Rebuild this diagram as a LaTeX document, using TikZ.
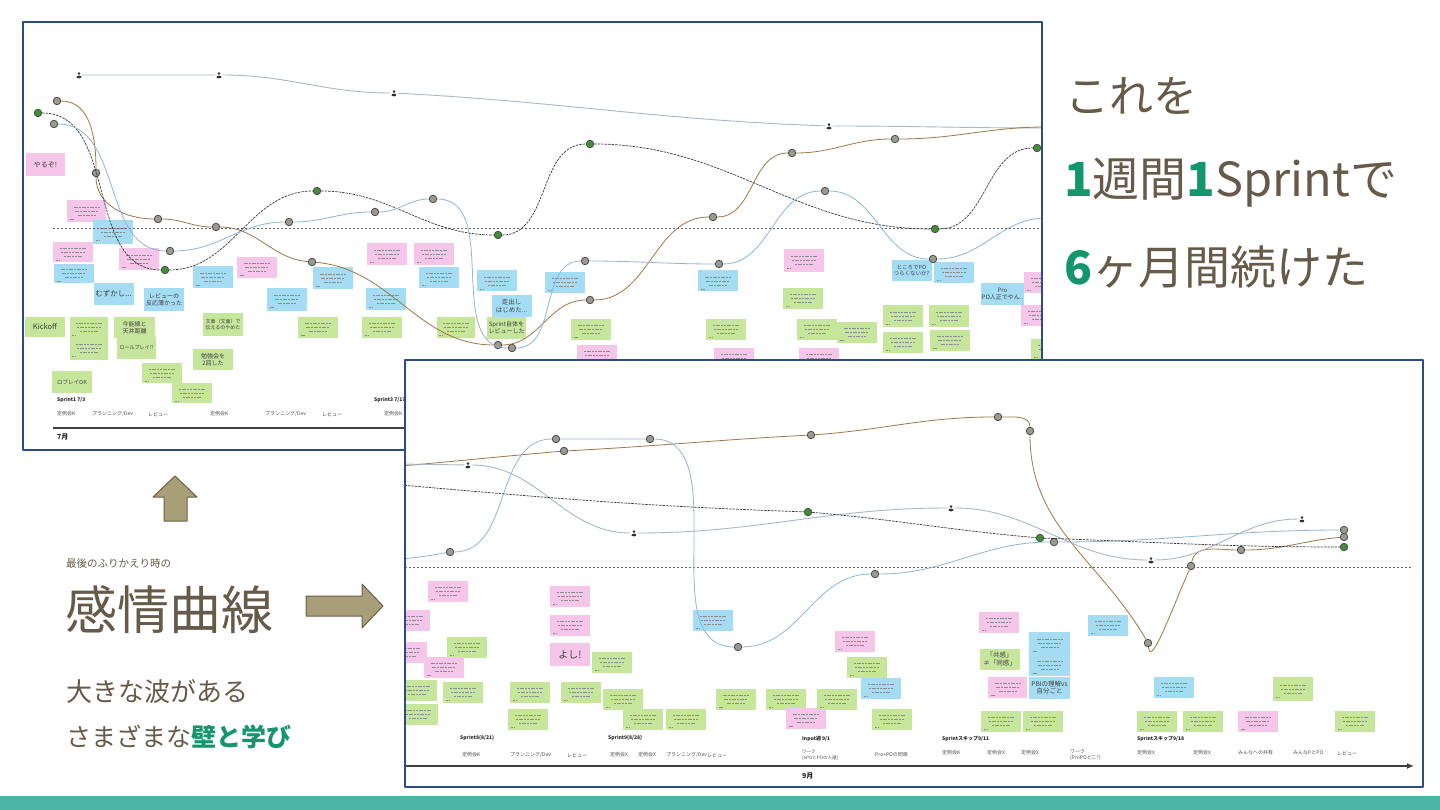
\documentclass[tikz,border=0pt]{standalone}
\usepackage{fontspec}
\setmainfont{Noto Sans CJK JP}
\usetikzlibrary{arrows.meta}
\definecolor{ink}{HTML}{665A48}
\definecolor{leaf}{HTML}{13966A}
\definecolor{khaki}{HTML}{A89E78}
\definecolor{khakiline}{HTML}{6B604A}
\definecolor{tealbar}{HTML}{4DB5A5}
\definecolor{frame}{HTML}{2E4C84}
\definecolor{gnote}{HTML}{C6E69C}
\definecolor{pnote}{HTML}{F6C6EA}
\definecolor{bnote}{HTML}{A4DCF4}
\definecolor{tancurve}{HTML}{A07648}
\definecolor{bluecurve}{HTML}{8DB6D6}
\definecolor{greycurve}{HTML}{A8B8C4}
\definecolor{darkcurve}{HTML}{3A3A3A}
\definecolor{dotgrey}{HTML}{9A9A90}
\definecolor{dotgreen}{HTML}{3F8F35}

\begin{document}
\begin{tikzpicture}[x=1pt, y=-1pt, line join=round,
    note/.style={minimum width=40, minimum height=21, inner sep=1pt, align=center,
                 text=black!75, font=\fontsize{5.5}{6.5}\selectfont},
    gn/.style={note, fill=gnote},
    pk/.style={note, fill=pnote},
    bl/.style={note, fill=bnote},
    scr/.style={path picture={\draw[black!45, line width=0.7pt, dash pattern=on 2pt off 0.7pt]
        ([xshift=-13pt,yshift=4pt]path picture bounding box.center) -- ([xshift=13pt,yshift=4pt]path picture bounding box.center)
        ([xshift=-12pt,yshift=0pt]path picture bounding box.center) -- ([xshift=12pt,yshift=0pt]path picture bounding box.center)
        ([xshift=-9pt,yshift=-4pt]path picture bounding box.center) -- ([xshift=9pt,yshift=-4pt]path picture bounding box.center)
        ([xshift=-17pt,yshift=-8pt]path picture bounding box.center) -- ([xshift=-13pt,yshift=-8pt]path picture bounding box.center);}},
    dotg/.style={circle, inner sep=0pt, minimum size=7.5pt, fill=dotgrey, draw=black!70, line width=0.8pt},
    dotgr/.style={dotg, fill=dotgreen},
    pers/.style={circle, inner sep=0pt, minimum size=7pt, fill=white,
        path picture={\fill[black!80] ([yshift=1.4pt]path picture bounding box.center) circle (1.4pt);
                      \fill[black!80] ([yshift=-2.4pt]path picture bounding box.center) ellipse (2.6pt and 1.8pt);}},
    crvA/.style={draw=greycurve, line width=0.9pt},
    crvB/.style={draw=tancurve, line width=0.8pt},
    crvC/.style={draw=darkcurve, line width=0.7pt, dash pattern=on 2.5pt off 1pt},
    crvD/.style={draw=bluecurve, line width=0.8pt},
    divd/.style={draw=black!60, line width=1pt, dash pattern=on 2pt off 2pt},
    tline/.style={draw=black!75, line width=1.4pt},
    lbl/.style={anchor=west, inner sep=0pt, text=black!70, font=\fontsize{5}{6}\selectfont},
    slbl/.style={lbl, text=black!85, font=\fontsize{5}{6}\selectfont\bfseries},
    mlbl/.style={lbl, text=black!85, font=\fontsize{7}{8}\selectfont\bfseries},
    frm/.style={draw=frame, line width=1.6pt},
    bigarr/.style={fill=khaki, draw=khakiline, line width=1pt},
    head/.style={anchor=base west, inner sep=0pt, text=ink}]
  \useasboundingbox (0,0) rectangle (1440,810);
  \fill[white] (0,0) rectangle (1440,810);

  % first board: July
  \begin{scope}
    \clip (23,22) rectangle (1042,450);
    \node[slbl] (s1) at (57,400) {Sprint1 7/3};
    \node[slbl] (s2) at (178,400) {Sprint2 7/10};
    \node[slbl] (s3) at (374,400) {Sprint3 7/17};
    \node[lbl] (r1) at (57,414) {定例会K};
    \node[lbl] (r2) at (92,414) {プランニング/Dev};
    \node[lbl] (r3) at (148,414) {レビュー};
    \node[lbl] (r4) at (210,414) {定例会K};
    \node[lbl] (r5) at (265,414) {プランニング/Dev};
    \node[lbl] (r6) at (322,414) {レビュー};
    \node[lbl] (r7) at (384,414) {定例会K};
    \coordinate (jl) at (53,428);
    \coordinate (jr) at (1042,428);
    \draw[tline] (jl) -- (jr);
    \node[mlbl] (m7) at (57,437) {7月};

    \node[pk, minimum width=39, minimum height=23, font=\fontsize{7}{8}\selectfont] (p1) at (45.5,164.5) {やるぞ!};
    \node[pk, scr, minimum width=39, minimum height=22] (p2) at (86.5,211) {};
    \node[bl, scr, minimum height=24] (p3) at (113,232) {};
    \node[pk, scr, minimum height=20] (p4) at (73,252) {};
    \node[bl, scr, minimum height=19] (p5) at (73.5,273.5) {};
    \node[pk, scr, minimum height=22] (p6) at (138.5,259) {};
    \node[bl, scr, minimum height=22] (p7) at (212.5,277) {};
    \node[pk, scr] (p8) at (256.5,267.5) {};
    \node[bl, minimum height=22, font=\fontsize{7.5}{8.5}\selectfont] (p9) at (113.5,294) {むずかし...};
    \node[bl, minimum height=23, font=\fontsize{6}{7}\selectfont] (p10) at (164,299.5) {レビューの\\反応薄かった};
    \node[bl, scr, minimum height=23] (p11) at (286.5,299.5) {};
    \node[bl, scr, minimum height=22] (p12) at (332.5,278) {};
    \node[pk, scr, minimum height=22] (p13) at (387,254) {};
    \node[pk, scr, minimum height=22] (p14) at (434,254) {};
    \node[bl, scr] (p15) at (439,277.5) {};
    \node[bl, scr] (p16) at (386,299) {};
    \node[bl, scr] (p17) at (497,281) {};
    \node[bl, minimum height=22, font=\fontsize{6.5}{7.5}\selectfont] (p18) at (511.5,306) {走出し\\はじめた...};
    \node[gn, minimum height=20, font=\fontsize{7.5}{8.5}\selectfont] (p19) at (45,327) {Kickoff};
    \node[gn, scr, minimum width=38, minimum height=20] (p20) at (89,327) {};
    \node[gn, minimum width=41, font=\fontsize{6}{7}\selectfont] (p21) at (134.5,327.5) {今能線と\\天井距離};
    \node[gn, scr, minimum width=38, minimum height=23] (p22) at (89,348.5) {};
    \node[gn, minimum width=39, minimum height=22, font=\fontsize{5}{6}\selectfont] (p23) at (136.5,348) {ロールプレイ!?};
    \node[gn, minimum height=23, font=\fontsize{5}{6}\selectfont] (p24) at (223,324.5) {文章（文面）で\\伝えるのやめた};
    \node[gn, font=\fontsize{6}{7}\selectfont] (p25) at (213,359.5) {勉強会を\\2回した};
    \node[gn, minimum height=22, font=\fontsize{5.5}{6.5}\selectfont] (p26) at (72,382) {ロブレイOK};
    \node[gn, scr, minimum height=20] (p27) at (162,373) {};
    \node[gn, scr, minimum height=20] (p28) at (192,393) {};
    \node[gn, scr] (p29) at (317.5,327.5) {};
    \node[gn, scr] (p30) at (382,327.5) {};
    \node[gn, scr, minimum width=38] (p31) at (456,327.5) {};
    \node[gn, minimum width=39, minimum height=22, font=\fontsize{6}{7}\selectfont] (p32) at (506.5,328) {Sprint自体を\\レビューした};
    \node[bl, scr] (p33) at (565,282.5) {};
    \node[gn, scr] (p34) at (590.5,329) {};
    \node[pk, scr] (p35) at (597,355) {};
    \node[bl, scr] (p36) at (717.5,281) {};
    \node[gn, scr] (p37) at (726,329) {};
    \node[pk, scr] (p38) at (734,358) {};
    \node[pk, scr, minimum height=23] (p39) at (804,260.5) {};
    \node[gn, scr] (p40) at (803,298.5) {};
    \node[gn, scr] (p41) at (817,329) {};
    \node[gn, scr] (p42) at (856.5,332.5) {};
    \node[pk, scr] (p43) at (819,358) {};
    \node[bl, font=\fontsize{5.5}{6.5}\selectfont] (p44) at (911.5,270.5) {ところでPO\\つらくないか?};
    \node[bl, scr] (p45) at (954,272.5) {};
    \node[bl, minimum height=22, font=\fontsize{6}{7}\selectfont] (p46) at (1002.5,294) {Pro\\PO人正でやん..};
    \node[gn, scr] (p47) at (903,316) {};
    \node[gn, scr] (p48) at (949,316) {};
    \node[gn, scr] (p49) at (903,342.5) {};
    \node[gn, scr] (p50) at (949.5,340) {};
    \node[pk, scr] (p51) at (1044,282.5) {};
    \node[pk, scr] (p52) at (1041,315.5) {};
    \node[gn, scr] (p53) at (1051,349) {};

    \coordinate (dl) at (53,229);
    \coordinate (dr) at (1042,229);
    \draw[divd] (dl) -- (dr);

    \node[pers] (a1) at (79,75) {};
    \node[pers] (a2) at (219,75) {};
    \node[pers] (a3) at (394,93) {};
    \node[pers] (a4) at (829,126) {};
    \coordinate (aR) at (1046,128);
    \node[dotg] (b1) at (57,101) {};
    \node[dotg] (b2) at (96,173) {};
    \node[dotg] (b3) at (158,219) {};
    \node[dotg] (b4) at (216,227) {};
    \node[dotg] (b5) at (312,262) {};
    \node[dotg] (b6) at (498,345) {};
    \node[dotg] (b7) at (590,300) {};
    \node[dotg] (b8) at (713,217) {};
    \node[dotg] (b9) at (792,153) {};
    \node[dotg] (b10) at (895,139) {};
    \coordinate (bR) at (1046,127);
    \node[dotgr] (c1) at (38,113) {};
    \node[dotgr] (c2) at (165,270) {};
    \node[dotgr] (c3) at (317,191) {};
    \node[dotgr] (c4) at (498,235) {};
    \node[dotgr] (c5) at (590,144) {};
    \node[dotgr] (c6) at (935,229) {};
    \node[dotgr] (c7) at (1037,148) {};
    \node[dotg] (d1) at (54,124) {};
    \node[dotg] (d2) at (170,251) {};
    \node[dotg] (d3) at (289,222) {};
    \node[dotg] (d4) at (375,212) {};
    \node[dotg] (d5) at (433,199) {};
    \node[dotg] (d6) at (512,348) {};
    \node[dotg] (d7) at (585,261) {};
    \node[dotg] (d8) at (719,264) {};
    \node[dotg] (d9) at (825,191) {};
    \node[dotg] (d10) at (933,259) {};
    \coordinate (dR) at (1046,218);

    \draw[crvA] (a1) -- (a2) to[out=0,in=180] (a3) to[out=-3,in=178] (a4) to[out=0,in=180] (aR);
    \draw[crvB] (b1) to[out=0,in=90] (b2) to[out=270,in=180] (b3) to[out=0,in=180] (b4)
      to[out=0,in=175] (b5) to[out=-5,in=180] (b6) to[out=0,in=180] (b7) to[out=0,in=180] (b8)
      to[out=0,in=180] (b9) to[out=0,in=180] (b10) to[out=0,in=180] (bR);
    \draw[crvC] (c1) to[out=0,in=180] (c2) to[out=0,in=180] (c3) to[out=0,in=180] (c4)
      to[out=0,in=180] (c5) to[out=0,in=180] (c6) to[out=0,in=180] (c7);
    \draw[crvD] (d1) to[out=0,in=180] (d2) to[out=0,in=180] (d3) to[out=0,in=180] (d4)
      to[out=0,in=180] (d5) to[out=0,in=180] (d6) to[out=0,in=180] (d7) to[out=0,in=180] (d8)
      to[out=0,in=180] (d9) to[out=0,in=180] (d10) to[out=0,in=180] (dR);
  \end{scope}
  \draw[frm] (23,22) rectangle (1042,450);

  % second board: September
  \fill[white] (405,360) rectangle (1423,787);
  \begin{scope}
    \clip (405,360) rectangle (1423,787);
    \node[slbl] (s4) at (460,738) {Sprint8(8/21)};
    \node[slbl] (s5) at (608,738) {Sprint9(8/28)};
    \node[slbl] (s6) at (802,739) {Input週 9/1};
    \node[slbl] (s7) at (942,739) {Sprintスキップ9/11};
    \node[slbl] (s8) at (1137,739) {Sprintスキップ9/18};
    \node[lbl] (r8) at (462,755) {定例会K};
    \node[lbl] (r9) at (510,755) {プランニング/Dev};
    \node[lbl] (r10) at (567,755) {レビュー};
    \node[lbl] (r11) at (610,755) {定例会X};
    \node[lbl] (r12) at (638,755) {定例会X};
    \node[lbl] (r13) at (666,755) {プランニング/Dev};
    \node[lbl] (r14) at (707,755) {レビュー};
    \node[lbl, align=left, font=\fontsize{4.5}{6}\selectfont] (r15) at (802,755) {ワーク\\(ePOとPOの人選)};
    \node[lbl] (r16) at (875,755) {Pro+POの同席};
    \node[lbl] (r17) at (942,753) {定例会K};
    \node[lbl] (r18) at (987,753) {定例会X};
    \node[lbl] (r19) at (1021,753) {定例会X};
    \node[lbl, align=left] (r20) at (1070,755) {ワーク\\(ProPOどこ?)};
    \node[lbl] (r21) at (1137,753) {定例会X};
    \node[lbl] (r22) at (1193,753) {定例会X};
    \node[lbl] (r23) at (1238,753) {みんなへの共有};
    \node[lbl] (r24) at (1293,753) {みんなPとPO};
    \node[lbl] (r25) at (1337,753) {レビュー};
    \coordinate (sl) at (405,766);
    \coordinate (sr) at (1414,766);
    \draw[tline, -{Latex[length=7pt, width=6pt]}] (sl) -- (sr);
    \node[mlbl] (m9) at (802,776) {9月};

    \node[pk, scr] (q1) at (448,591.5) {};
    \node[pk, scr] (q2) at (410,620) {};
    \node[pk, scr] (q3) at (407,652.5) {};
    \node[gn, scr] (q4) at (467,647.5) {};
    \node[pk, scr] (q5) at (443.5,667.5) {};
    \node[gn, scr] (q6) at (417,690) {};
    \node[gn, scr] (q7) at (463,692) {};
    \node[gn, scr] (q8) at (418,714) {};
    \node[gn, scr] (q9) at (530,692) {};
    \node[gn, scr] (q10) at (528,719) {};
    \node[pk, scr] (q11) at (570,596) {};
    \node[pk, scr] (q12) at (570,625.5) {};
    \node[pk, minimum height=23, font=\fontsize{10}{11}\selectfont] (q13) at (570,654.5) {よし!};
    \node[gn, scr] (q14) at (612,662.5) {};
    \node[gn, scr] (q15) at (581,692) {};
    \node[gn, scr] (q16) at (623,699) {};
    \node[gn, scr] (q17) at (643,719) {};
    \node[gn, scr] (q18) at (686,719) {};
    \node[bl, scr] (q19) at (713,620) {};
    \node[gn, scr] (q20) at (735.5,699) {};
    \node[gn, scr] (q21) at (786,699) {};
    \node[pk, scr] (q22) at (805.5,718.5) {};
    \node[gn, scr] (q23) at (837,699) {};
    \node[pk, scr] (q24) at (855,641) {};
    \node[gn, scr] (q25) at (867,667) {};
    \node[bl, scr] (q26) at (881,688) {};
    \node[gn, scr] (q27) at (892,719) {};
    \node[pk, scr] (q28) at (999,622) {};
    \node[gn, font=\fontsize{6.5}{7.5}\selectfont] (q29) at (999.5,659) {「共感」\\≠「同感」};
    \node[bl, scr, minimum width=41, minimum height=22] (q30) at (1049.5,643) {};
    \node[bl, scr, minimum width=41, minimum height=22] (q31) at (1049.5,665) {};
    \node[bl, minimum width=41, minimum height=22, font=\fontsize{6.5}{7.5}\selectfont] (q32) at (1049.5,687.5) {PBIの理解vs\\自分ごと};
    \node[pk, scr, minimum width=39] (q33) at (1007.5,687.5) {};
    \node[bl, scr] (q34) at (1108,625) {};
    \node[bl, scr] (q35) at (1174,687.5) {};
    \node[gn, scr, minimum height=24] (q36) at (1293,689) {};
    \node[gn, scr] (q37) at (1001,721) {};
    \node[gn, scr] (q38) at (1043,721) {};
    \node[gn, scr] (q39) at (1157,721) {};
    \node[gn, scr] (q40) at (1203,721) {};
    \node[pk, scr] (q41) at (1257.5,721) {};
    \node[gn, scr] (q42) at (1355,721) {};

    \coordinate (el) at (405,567);
    \coordinate (er) at (1413,567);
    \draw[divd] (el) -- (er);

    \coordinate (eL) at (401,466);
    \node[dotg] (e1) at (564,451) {};
    \node[dotg] (e2) at (811,435) {};
    \node[dotg] (e3) at (998,417) {};
    \node[dotg] (e4) at (1030,431) {};
    \node[dotg] (e5) at (1148,643) {};
    \node[dotg] (e6) at (1191,566) {};
    \node[dotg] (e7) at (1241,550) {};
    \node[dotg] (e8) at (1344,537) {};
    \coordinate (fL) at (401,559);
    \node[dotg] (f1) at (450,552) {};
    \node[dotg] (f2) at (556,439) {};
    \node[dotg] (f3) at (650,439) {};
    \coordinate (fk) at (694,540);
    \node[dotg] (f4) at (738,647) {};
    \node[dotg] (f5) at (875,574) {};
    \node[dotg] (f6) at (1054,542) {};
    \node[dotg] (f7) at (1344,530) {};
    \coordinate (gL) at (401,464);
    \node[pers] (g1) at (468,465) {};
    \node[pers] (g2) at (634,533) {};
    \node[pers] (g3) at (951,508) {};
    \node[pers] (g4) at (1151,560) {};
    \node[pers] (g5) at (1302,519) {};
    \coordinate (hL) at (401,485);
    \node[dotgr] (h1) at (808,512) {};
    \node[dotgr] (h2) at (1040,538) {};
    \node[dotgr] (h3) at (1344,547) {};

    \draw[crvB] (eL) to[out=5,in=185] (e1) to[out=3,in=183] (e2) to[out=4,in=180] (e3)
      to[out=0,in=90] (e4) to[out=270,in=120] (e5) .. controls +(3,25) and +(-20,45) .. (e6)
      to[out=80,in=180] (e7) to[out=0,in=185] (e8);
    \draw[crvD] (fL) to[out=5,in=190] (f1) to[out=0,in=180] (f2) -- (f3) to[out=0,in=90] (fk)
      to[out=270,in=180] (f4) to[out=0,in=180] (f5) to[out=0,in=180] (f6) to[out=0,in=180] (f7);
    \draw[crvA] (gL) -- (g1) to[out=0,in=180] (g2) to[out=0,in=180] (g3) to[out=0,in=180] (g4)
      to[out=0,in=180] (g5);
    \draw[crvC] (hL) to[out=-5,in=178] (h1) to[out=-5,in=175] (h2) to[out=-2,in=180] (h3);
  \end{scope}
  \draw[frm] (405,360) rectangle (1423,787);

  % slide texts
  \node[head, font=\fontsize{44}{44}\selectfont] (t1) at (1065,113) {これを};
  \node[head, font=\fontsize{47}{47}\selectfont] (t2) at (1064,197)
    {\textcolor{leaf}{\bfseries 1}週間\textcolor{leaf}{\bfseries 1}Sprintで};
  \node[head, font=\fontsize{46}{46}\selectfont] (t3) at (1064,285)
    {\textcolor{leaf}{\bfseries 6}ヶ月間続けた};
  \node[head, font=\fontsize{10.5}{11}\selectfont] (t4) at (66,567) {最後のふりかえり時の};
  \node[head, font=\fontsize{52}{52}\selectfont] (t5) at (65,629) {感情曲線};
  \node[head, font=\fontsize{26}{26}\selectfont] (t6) at (66,701) {大きな波がある};
  \node[head, font=\fontsize{25}{25}\selectfont] (t7) at (66,746)
    {さまざまな\textcolor{leaf}{\bfseries 壁と学び}};

  \filldraw[bigarr] (153,497) -- (175,476) -- (197,497) -- (187,497) -- (187,521)
    -- (164,521) -- (164,497) -- cycle;
  \filldraw[bigarr] (306,596) -- (362,596) -- (362,584) -- (383,606) -- (362,628)
    -- (362,616) -- (306,616) -- cycle;

  \fill[tealbar] (0,796) rectangle (1440,810);
\end{tikzpicture}
\end{document}
